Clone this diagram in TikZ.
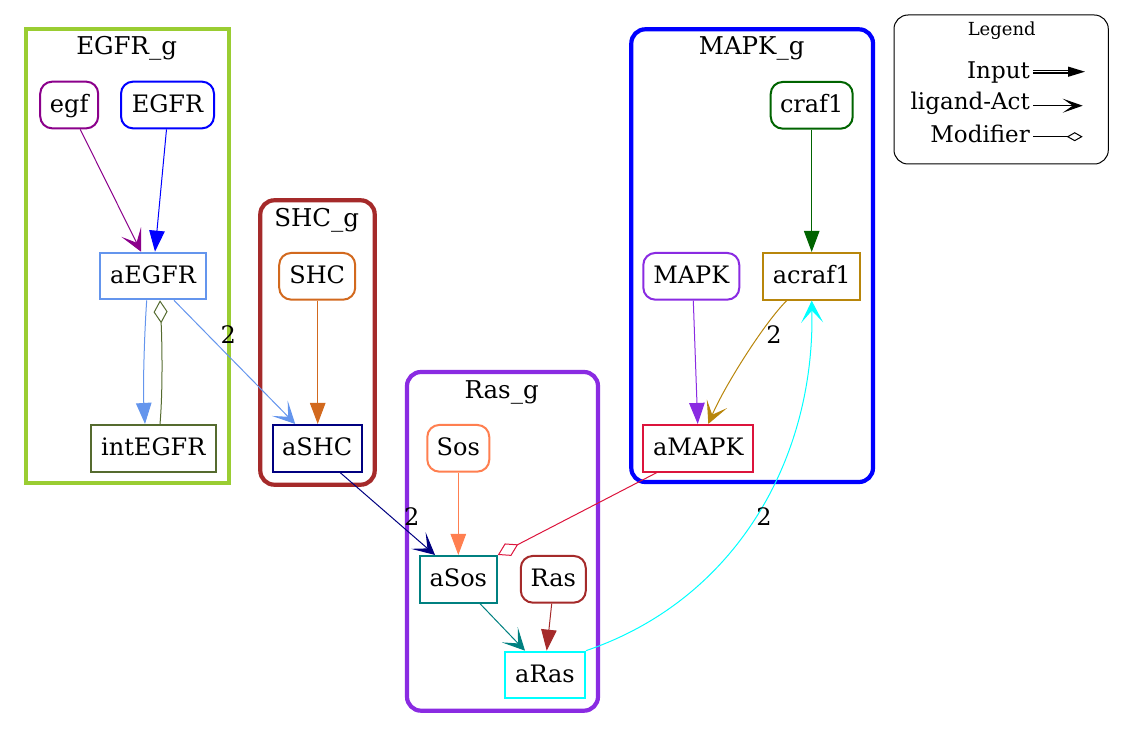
\documentclass[tikz,border=0pt]{standalone}
\usepackage{fontspec}
\setmainfont{DejaVu Serif}
\usetikzlibrary{arrows.meta}
\definecolor{yellowgreen}{HTML}{9ACD32}
\definecolor{gvbrown}{HTML}{A52A2A}
\definecolor{blueviolet}{HTML}{8A2BE2}
\definecolor{gvblue}{HTML}{0000FF}
\definecolor{darkmagenta}{HTML}{8B008B}
\definecolor{cornflower}{HTML}{6495ED}
\definecolor{darkolive}{HTML}{556B2F}
\definecolor{chocolate}{HTML}{D2691E}
\definecolor{gvnavy}{HTML}{000080}
\definecolor{coral}{HTML}{FF7F50}
\definecolor{gvteal}{HTML}{008080}
\definecolor{gvcyan}{HTML}{00FFFF}
\definecolor{darkgreen}{HTML}{006400}
\definecolor{darkgoldenrod}{HTML}{B8860B}
\definecolor{crimson}{HTML}{DC143C}
\tikzset{
  nodebase/.style={line width=2pt, minimum height=46.7pt, inner sep=0pt,
    text height=18pt, text depth=3.5pt, font=\fontsize{24}{28}\selectfont, fill=white, text=black},
  rnode/.style={nodebase, rounded corners=12pt},
  snode/.style={nodebase},
  cluster/.style={line width=4.2pt},
  clabel/.style={font=\fontsize{24.5}{28}\selectfont, anchor=base, inner sep=0pt},
  elabel/.style={font=\fontsize{24}{28}\selectfont, inner sep=0pt},
  conn/.style={line width=1pt},
  normaltip/.style={-{Triangle[length=21pt,width=15.5pt]}},
  veetip/.style={-{Stealth[length=22pt,width=22pt,inset=12pt]}},
  diamtip/.style={-{Diamond[open,length=23pt,width=14pt]}},
  legtext/.style={font=\fontsize{23}{28}\selectfont, anchor=base east, inner sep=0pt},
}
\begin{document}
\begin{tikzpicture}[x=1pt,y=-1pt]
\useasboundingbox (0,0) rectangle (1124,738);
% clusters
\draw[cluster, yellowgreen] (26,28.7) rectangle (228.7,483);
\node[clabel] (lEGFRg) at (126.7,55) {EGFR\_g};
\draw[cluster, gvbrown, rounded corners=14pt] (260.3,200.3) rectangle (374.7,484.7);
\node[clabel] (lSHCg) at (316.7,226.7) {SHC\_g};
\draw[cluster, blueviolet, rounded corners=14pt] (407,372) rectangle (598,710.7);
\node[clabel] (lRasg) at (501.7,398.3) {Ras\_g};
\draw[cluster, gvblue, rounded corners=14pt] (631.3,29.3) rectangle (873,482);
\node[clabel] (lMAPKg) at (751.7,55) {MAPK\_g};
% nodes
\node[rnode, draw=darkmagenta, minimum width=58pt] (egf) at (69.2,105) {egf};
\node[rnode, draw=gvblue, minimum width=93pt] (EGFR) at (167.5,105) {EGFR};
\node[snode, draw=cornflower, minimum width=106pt] (aEGFR) at (153,276) {aEGFR};
\node[snode, draw=darkolive, minimum width=125pt] (intEGFR) at (153.3,448.3) {intEGFR};
\node[rnode, draw=chocolate, minimum width=76pt] (SHC) at (317.2,276.3) {SHC};
\node[snode, draw=gvnavy, minimum width=89pt] (aSHC) at (317.2,448.3) {aSHC};
\node[rnode, draw=coral, minimum width=62pt] (Sos) at (458.3,448.3) {Sos};
\node[snode, draw=gvteal, minimum width=77pt] (aSos) at (458.3,579.3) {aSos};
\node[rnode, draw=gvbrown, minimum width=65pt] (Ras) at (553.3,579.3) {Ras};
\node[snode, draw=gvcyan, minimum width=80pt] (aRas) at (545,675) {aRas};
\node[rnode, draw=darkgreen, minimum width=82pt] (craf1) at (811.7,105.3) {craf1};
\node[rnode, draw=blueviolet, minimum width=96pt] (MAPK) at (691.3,276.3) {MAPK};
\node[snode, draw=darkgoldenrod, minimum width=97pt] (acraf1) at (811.7,276.3) {acraf1};
\node[snode, draw=crimson, minimum width=110pt] (aMAPK) at (698.3,448.3) {aMAPK};
% edges
\draw[conn, darkmagenta, veetip] ([xshift=11pt]egf.south) -- ([xshift=-12pt]aEGFR.north);
\draw[conn, gvblue, normaltip] ([xshift=-1pt]EGFR.south) -- ([xshift=2pt]aEGFR.north);
\draw[conn, cornflower, normaltip] ([xshift=-6.3pt]aEGFR.south) .. controls (144,340) and (143,390) .. ([xshift=-8.3pt]intEGFR.north);
\draw[conn, darkolive, diamtip] ([xshift=6.7pt]intEGFR.north) .. controls (163,390) and (162,340) .. ([xshift=7pt]aEGFR.south);
\draw[conn, cornflower, veetip] ([xshift=21pt]aEGFR.south) -- ([xshift=-22pt]aSHC.north);
\node[elabel] (l1) at (228.3,335) {2};
\draw[conn, chocolate, normaltip] ([xshift=0.5pt]SHC.south) -- ([xshift=0.5pt]aSHC.north);
\draw[conn, gvnavy, veetip] ([xshift=23pt]aSHC.south) -- ([xshift=-23.3pt]aSos.north);
\node[elabel] (l2) at (411.7,516.7) {2};
\draw[conn, coral, normaltip] (Sos.south) -- (aSos.north);
\draw[conn, crimson, diamtip] ([xshift=-41.6pt]aMAPK.south) -- (aSos.north east);
\draw[conn, gvteal, veetip] ([xshift=21.7pt]aSos.south) -- ([xshift=-20pt]aRas.north);
\draw[conn, gvbrown, normaltip] ([xshift=-1.6pt]Ras.south) -- ([xshift=1.7pt]aRas.north);
\draw[conn, gvcyan, veetip] (aRas.north east) .. controls (735,600) and (815,460) .. (acraf1.south);
\node[elabel] (l3) at (764,516.7) {2};
\draw[conn, darkgreen, normaltip] (craf1.south) -- (acraf1.north);
\draw[conn, blueviolet, normaltip] ([xshift=2pt]MAPK.south) -- ([xshift=-0.6pt]aMAPK.north);
\draw[conn, darkgoldenrod, veetip] ([xshift=-25pt]acraf1.south) .. controls (765,322) and (725,385) .. ([xshift=10pt]aMAPK.north);
\node[elabel] (l4) at (774,335) {2};
% legend
\draw[line width=1pt, rounded corners=14pt] (894,15) rectangle (1108.3,164);
\node[font=\fontsize{18}{22}\selectfont, anchor=base, inner sep=0pt] (legtitle) at (1001.7,36) {Legend};
\node[legtext] (legin) at (1030,78.3) {Input};
\node[legtext] (legla) at (1030,110) {ligand-Act};
\node[legtext] (legmo) at (1030,142.7) {Modifier};
\coordinate (inS) at (1033,71.7);
\coordinate (inE) at (1085,71.7);
\coordinate (laS) at (1033,105.7);
\coordinate (laE) at (1082.7,105.7);
\coordinate (moS) at (1033,136.7);
\coordinate (moE) at (1082.7,136.7);
\draw[line width=1.2pt, double distance=1.6pt, -{Triangle[length=17pt,width=10pt]}] (inS) -- (inE);
\draw[line width=1pt, -{Stealth[length=20pt,width=14pt,inset=10pt]}] (laS) -- (laE);
\draw[line width=1pt, -{Diamond[open,length=16pt,width=9pt]}] (moS) -- (moE);
\end{tikzpicture}
\end{document}
